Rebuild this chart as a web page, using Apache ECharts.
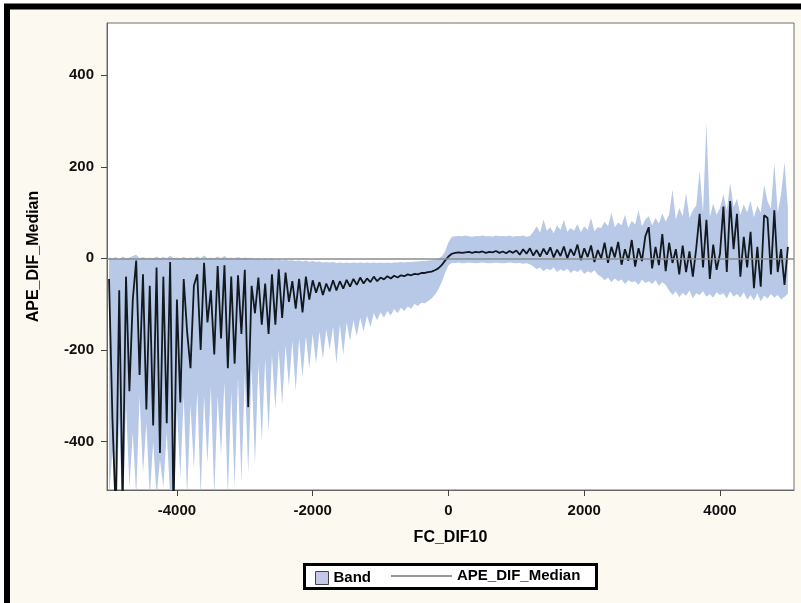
<!DOCTYPE html>
<html>
<head>
<meta charset="utf-8">
<script src="https://cdn.jsdelivr.net/npm/echarts@6/dist/echarts.min.js"></script>
<style>html,body{margin:0;padding:0;background:#fff;}#c{width:801px;height:603px;}</style>
</head>
<body>
<div id="c"></div>
<script>
const xValues = [
-5000,-4950,-4900,-4850,-4800,-4750,-4700,-4650,-4600,-4550,
-4500,-4450,-4400,-4350,-4300,-4250,-4200,-4150,-4100,-4050,
-4000,-3950,-3900,-3850,-3800,-3750,-3700,-3650,-3600,-3550,
-3500,-3450,-3400,-3350,-3300,-3250,-3200,-3150,-3100,-3050,
-3000,-2950,-2900,-2850,-2800,-2750,-2700,-2650,-2600,-2550,
-2500,-2450,-2400,-2350,-2300,-2250,-2200,-2150,-2100,-2050,
-2000,-1950,-1900,-1850,-1800,-1750,-1700,-1650,-1600,-1550,
-1500,-1450,-1400,-1350,-1300,-1250,-1200,-1150,-1100,-1050,
-1000,-950,-900,-850,-800,-750,-700,-650,-600,-550,
-500,-450,-400,-350,-300,-250,-200,-150,-100,-50,
0,50,100,150,200,250,300,350,400,450,
500,550,600,650,700,750,800,850,900,950,
1000,1050,1100,1150,1200,1250,1300,1350,1400,1450,
1500,1550,1600,1650,1700,1750,1800,1850,1900,1950,
2000,2050,2100,2150,2200,2250,2300,2350,2400,2450,
2500,2550,2600,2650,2700,2750,2800,2850,2900,2950,
3000,3050,3100,3150,3200,3250,3300,3350,3400,3450,
3500,3550,3600,3650,3700,3750,3800,3850,3900,3950,
4000,4050,4100,4150,4200,4250,4300,4350,4400,4450,
4500,4550,4600,4650,4700,4750,4800,4850,4900,4950,
5000];

const medianValues = [
-45,-350,-560,-70,-540,-40,-290,-90,-5,-255,
-35,-330,-60,-365,-20,-425,-40,-360,-8,-560,
-90,-315,-45,-160,-240,-60,-35,-200,-10,-140,
-70,-210,-17,-175,-15,-240,-40,-230,-37,-165,
-25,-325,-60,-120,-42,-145,-55,-165,-35,-145,
-24,-130,-31,-95,-50,-110,-45,-118,-40,-90,
-48,-75,-52,-80,-55,-72,-48,-70,-50,-66,
-47,-62,-45,-58,-42,-55,-44,-52,-40,-50,
-42,-46,-39,-44,-38,-42,-37,-39,-35,-37,
-34,-35,-32,-32,-30,-29,-26,-22,-15,-5,
4,10,12,13,12,13,14,12,14,13,
15,12,14,13,16,12,15,11,16,12,
17,8,20,10,22,6,18,4,21,8,
24,2,19,5,26,0,20,6,30,-4,
22,3,28,-8,18,0,34,-10,25,2,
36,-14,20,-5,40,-18,22,-6,48,68,
-22,25,-15,53,-28,34,-10,20,-35,28,
-30,15,-40,22,97,-20,84,-45,30,-25,
10,113,-30,125,20,97,-40,47,-20,58,
-65,25,-62,94,88,-35,105,-30,20,-58,
25];

const bandUpper = [
2,0,3,-2,4,0,2,5,8,0,
3,0,2,0,4,0,3,0,6,0,
2,0,3,0,2,0,4,0,6,0,
2,0,4,0,5,0,2,0,3,0,
2,0,1,-2,0,-3,0,-3,0,-4,
-2,-5,-3,-5,-4,-6,-5,-7,-5,-8,
-6,-8,-7,-9,-8,-9,-8,-10,-9,-10,
-9,-10,-9,-10,-9,-10,-9,-10,-9,-10,
-9,-10,-9,-10,-9,-9,-8,-9,-8,-8,
-7,-7,-6,-6,-5,-4,-3,-1,4,15,
35,47,48,49,48,50,48,47,49,48,
50,48,49,47,50,48,49,48,50,47,
49,48,50,47,49,58,70,56,85,60,
68,55,72,62,84,58,66,60,75,57,
70,62,88,59,68,66,80,70,100,68,
78,72,95,66,82,74,105,70,85,92,
72,88,76,98,80,96,150,85,110,92,
142,88,105,115,192,100,295,90,120,95,
110,140,105,165,112,130,95,118,100,125,
90,115,100,160,125,108,210,100,140,210,
110];

const bandLower = [
-520,-420,-580,-350,-580,-320,-500,-380,-520,-300,
-470,-360,-520,-400,-520,-440,-500,-380,-520,-580,
-330,-480,-300,-520,-320,-460,-290,-520,-300,-450,
-280,-520,-300,-430,-270,-520,-290,-500,-260,-490,
-250,-470,-240,-450,-230,-400,-220,-380,-210,-330,
-200,-320,-190,-280,-180,-290,-175,-260,-170,-240,
-165,-230,-160,-220,-155,-200,-150,-230,-145,-210,
-140,-180,-135,-170,-130,-160,-125,-150,-120,-135,
-118,-130,-115,-125,-110,-120,-108,-115,-105,-110,
-100,-104,-97,-98,-93,-88,-80,-68,-52,-32,
-15,-10,-10,-9,-11,-10,-9,-10,-11,-10,
-9,-10,-11,-10,-9,-10,-11,-10,-9,-10,
-11,-10,-12,-11,-13,-18,-24,-20,-28,-22,
-26,-20,-30,-24,-28,-22,-32,-26,-30,-24,
-34,-28,-32,-26,-36,-40,-48,-42,-52,-44,
-50,-46,-56,-48,-52,-50,-58,-46,-54,-50,
-56,-48,-60,-52,-58,-70,-80,-72,-85,-75,
-82,-70,-88,-76,-80,-72,-84,-78,-86,-74,
-80,-76,-88,-72,-84,-78,-86,-74,-90,-80,
-92,-76,-94,-82,-88,-78,-86,-80,-90,-84,
-78];

const xTicks = [-4000, -2000, 0, 2000, 4000];
const yTicks = [-400, -200, 0, 200, 400];
const xTitle = 'FC_DIF10';
const yTitle = 'APE_DIF_Median';
const bandName = 'Band';
const lineName = 'APE_DIF_Median';

const FONT = 'Arial, "Liberation Sans", sans-serif';
const medianData = xValues.map((x, i) => [x, medianValues[i]]);

function renderBand(params, api) {
  const pts = [];
  for (let i = 0; i < xValues.length; i++) pts.push(api.coord([xValues[i], bandUpper[i]]));
  for (let i = xValues.length - 1; i >= 0; i--) pts.push(api.coord([xValues[i], bandLower[i]]));
  const cs = params.coordSys;
  return {
    type: 'group',
    clipPath: {type: 'rect', shape: {x: cs.x, y: cs.y, width: cs.width, height: cs.height}},
    children: [{type: 'polygon', shape: {points: pts}, style: {fill: '#b7c9e6', stroke: null}}]
  };
}

const chart = echarts.init(document.getElementById('c'), null, {renderer: 'canvas'});
chart.setOption({
  animation: false,
  backgroundColor: '#fbf9f0',
  graphic: [
    {type: 'rect', z: 0, shape: {x: 0, y: 0, width: 801, height: 3}, style: {fill: '#ffffff'}},
    {type: 'rect', z: 0, shape: {x: 0, y: 0, width: 4, height: 603}, style: {fill: '#ffffff'}},
    {type: 'rect', z: 1, shape: {x: 7, y: 6.5, width: 900, height: 700}, style: {fill: 'none', stroke: '#000', lineWidth: 6}},
    {type: 'rect', z: 3, shape: {x: 304.5, y: 564.5, width: 292, height: 24}, style: {fill: '#ffffff', stroke: '#000', lineWidth: 3}}
  ],
  grid: {left: 107, right: 7, top: 23, bottom: 113, show: true, backgroundColor: '#ffffff', borderColor: '#6e6e6e', borderWidth: 1},
  legend: [
    {
      data: [{name: bandName, icon: 'rect', itemStyle: {color: '#c4c7e8', borderColor: '#444', borderWidth: 1}}],
      left: 315, top: 570.5, itemWidth: 13, itemHeight: 13, padding: 0, selectedMode: false,
      textStyle: {fontFamily: FONT, fontSize: 15, fontWeight: 'bold', color: '#000'}
    },
    {
      data: [{name: lineName, icon: 'rect', itemStyle: {color: '#333', borderWidth: 0}}],
      left: 391, top: 568.5, itemWidth: 61, itemHeight: 1.2, padding: 0, selectedMode: false,
      textStyle: {fontFamily: FONT, fontSize: 15, fontWeight: 'bold', color: '#000'}
    }
  ],
  xAxis: {
    type: 'value', min: -5030, max: 5090,
    name: xTitle, nameLocation: 'middle', nameGap: 40,
    nameTextStyle: {fontFamily: FONT, fontSize: 16, fontWeight: 'bold', color: '#000'},
    axisLine: {show: true, onZero: false, lineStyle: {color: '#666', width: 1}},
    axisTick: {show: true, inside: false, length: 6, customValues: xTicks, lineStyle: {color: '#444'}},
    axisLabel: {customValues: xTicks, formatter: v => String(v), margin: 13, fontFamily: FONT, fontSize: 15, fontWeight: 'bold', color: '#111'},
    splitLine: {show: false}
  },
  yAxis: {
    type: 'value', min: -506, max: 514,
    name: yTitle, nameLocation: 'middle', nameGap: 65,
    nameTextStyle: {fontFamily: FONT, fontSize: 16, fontWeight: 'bold', color: '#000'},
    axisLine: {show: true, onZero: false, lineStyle: {color: '#666', width: 1}},
    axisTick: {show: true, inside: false, length: 6, customValues: yTicks, lineStyle: {color: '#444'}},
    axisLabel: {customValues: yTicks, formatter: v => String(v), margin: 13, fontFamily: FONT, fontSize: 15, fontWeight: 'bold', color: '#111'},
    splitLine: {show: false}
  },
  series: [
    {
      name: bandName, type: 'custom', renderItem: renderBand, data: [[0, 0]],
      encode: {x: 0, y: 1}, silent: true, z: 2,
      itemStyle: {color: '#c4c7e8'},
      markLine: {
        silent: true, symbol: 'none', label: {show: false},
        lineStyle: {color: '#8c8c8c', width: 1.5, type: 'solid'},
        data: [{yAxis: 0}]
      }
    },
    {
      name: lineName, type: 'line', data: medianData, symbol: 'none', z: 3,
      itemStyle: {color: '#111'},
      lineStyle: {color: '#121820', width: 1.8}
    }
  ]
});
</script>
</body>
</html>
